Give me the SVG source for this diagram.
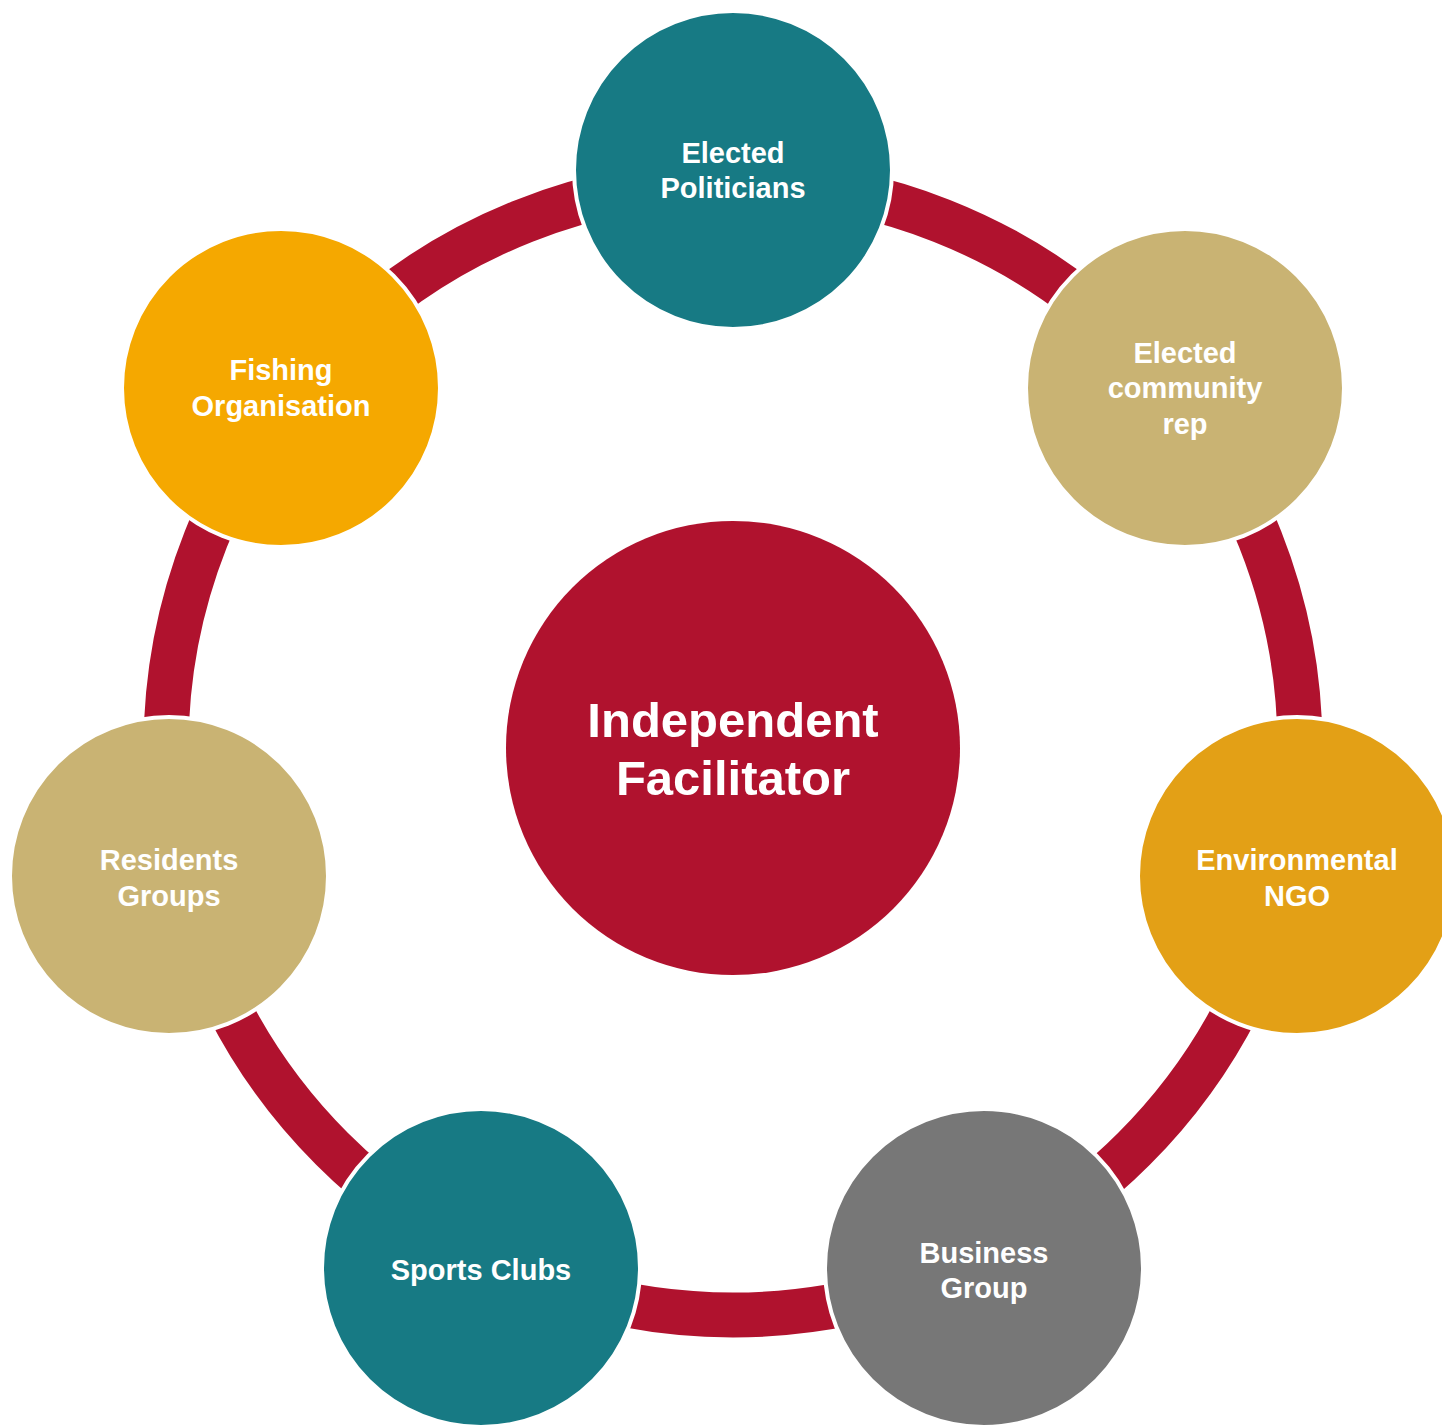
<svg xmlns="http://www.w3.org/2000/svg" width="1442" height="1428" viewBox="0 0 1442 1428">
<style>
.node{stroke:#fff;stroke-width:4}
.lbl{font-family:"Liberation Sans",Arial,sans-serif;font-weight:bold;font-size:29px;fill:#fff;text-anchor:middle}
.center{font-family:"Liberation Sans",Arial,sans-serif;font-weight:bold;font-size:49px;fill:#fff;text-anchor:middle}
</style>
<rect width="1442" height="1428" fill="#fff"/>
<g id="connectors">
<circle cx="733" cy="748" r="567" fill="none" stroke="#B0122E" stroke-width="45"/>
</g>
<g id="center-node">
<circle cx="733" cy="748" r="227" fill="#B0122E"/>
<text class="center" x="733" y="737">Independent</text>
<text class="center" x="733" y="795">Facilitator</text>
</g>
<g id="elected-politicians">
<circle class="node" cx="733" cy="170" r="159" fill="#177A84"/>
<text class="lbl" x="733" y="163">Elected</text>
<text class="lbl" x="733" y="198">Politicians</text>
</g>
<g id="elected-community-rep">
<circle class="node" cx="1185" cy="388" r="159" fill="#C9B373"/>
<text class="lbl" x="1185" y="363">Elected</text>
<text class="lbl" x="1185" y="398">community</text>
<text class="lbl" x="1185" y="434">rep</text>
</g>
<g id="environmental-ngo">
<circle class="node" cx="1297" cy="876" r="159" fill="#E3A016"/>
<text class="lbl" x="1297" y="870">Environmental</text>
<text class="lbl" x="1297" y="906">NGO</text>
</g>
<g id="business-group">
<circle class="node" cx="984" cy="1268" r="159" fill="#777777"/>
<text class="lbl" x="984" y="1263">Business</text>
<text class="lbl" x="984" y="1298">Group</text>
</g>
<g id="sports-clubs">
<circle class="node" cx="481" cy="1268" r="159" fill="#177A84"/>
<text class="lbl" x="481" y="1280">Sports Clubs</text>
</g>
<g id="residents-groups">
<circle class="node" cx="169" cy="876" r="159" fill="#C9B373"/>
<text class="lbl" x="169" y="870">Residents</text>
<text class="lbl" x="169" y="906">Groups</text>
</g>
<g id="fishing-organisation">
<circle class="node" cx="281" cy="388" r="159" fill="#F5A800"/>
<text class="lbl" x="281" y="380">Fishing</text>
<text class="lbl" x="281" y="416">Organisation</text>
</g>
</svg>
